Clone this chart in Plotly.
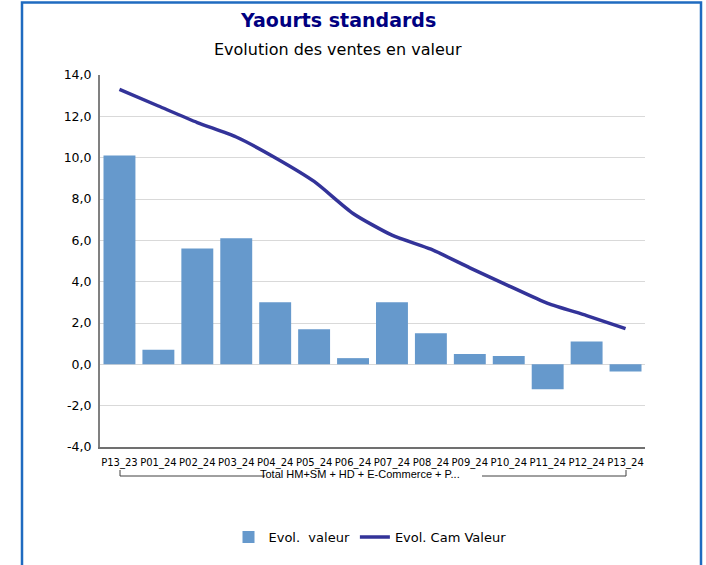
import plotly.graph_objects as go

categories = ["P13_23", "P01_24", "P02_24", "P03_24", "P04_24", "P05_24", "P06_24",
              "P07_24", "P08_24", "P09_24", "P10_24", "P11_24", "P12_24", "P13_24"]
evol_valeur = [10.1, 0.7, 5.6, 6.1, 3.0, 1.7, 0.3, 3.0, 1.5, 0.5, 0.4, -1.2, 1.1, -0.35]
evol_cam_valeur = [13.3, 12.5, 11.7, 11.0, 10.0, 8.85, 7.3, 6.25, 5.57, 4.67, 3.8, 2.95, 2.36, 1.73]
y_ticks = [-4, -2, 0, 2, 4, 6, 8, 10, 12, 14]
y_tick_labels = ["-4,0", "-2,0", "0,0", "2,0", "4,0", "6,0", "8,0", "10,0", "12,0", "14,0"]
group_label = "Total HM+SM + HD + E-Commerce + P..."

FONT = "DejaVu Sans"
W, H = 706, 565
L, R, T, B = 100, 61, 75, 118
PW, PH = W - L - R, H - T - B

def px(x):
    return (x - L) / PW

def py(y):
    return (H - B - y) / PH

fig = go.Figure()
fig.add_trace(go.Bar(
    x=categories, y=evol_valeur, name="Evol.\u00a0 valeur",
    marker=dict(color="#6699CC", line=dict(width=0)),
))
fig.add_trace(go.Scatter(
    x=categories, y=evol_cam_valeur, name="Evol. Cam Valeur", mode="lines",
    line=dict(color="#333399", width=3.5, shape="spline", smoothing=0.6),
))

shapes = [
    # outer frame
    dict(type="rect", xref="paper", yref="paper", x0=px(22), x1=px(701), y0=py(2.5), y1=py(575),
         line=dict(color="#1F6BC0", width=2.5), fillcolor="rgba(0,0,0,0)", layer="below"),
    # group bracket
    dict(type="path", xref="paper", yref="paper",
         path=f"M {px(120)} {py(470)} L {px(120)} {py(476)} L {px(265)} {py(476)}",
         line=dict(color="#404040", width=1)),
    dict(type="path", xref="paper", yref="paper",
         path=f"M {px(482)} {py(476)} L {px(626)} {py(476)} L {px(626)} {py(470)}",
         line=dict(color="#404040", width=1)),
]

annotations = [
    dict(text="<b>Yaourts standards</b>", xref="paper", yref="paper", x=px(338), y=py(20),
         showarrow=False, font=dict(family=FONT, size=19, color="#000080"),
         xanchor="center", yanchor="middle"),
    dict(text="Evolution des ventes en valeur", xref="paper", yref="paper", x=px(338), y=py(49),
         showarrow=False, font=dict(family=FONT, size=16, color="#000000"),
         xanchor="center", yanchor="middle"),
    dict(text=group_label, xref="paper", yref="paper", x=px(360), y=py(474),
         showarrow=False, font=dict(family="Liberation Sans", size=11, color="#000000"),
         xanchor="center", yanchor="middle"),
]

fig.update_layout(
    width=W, height=H,
    margin=dict(l=L, r=R, t=T, b=B),
    paper_bgcolor="white", plot_bgcolor="white",
    bargap=0.18,
    showlegend=True,
    legend=dict(orientation="h", x=px(370), y=py(537), xanchor="center", yanchor="middle",
                font=dict(family=FONT, size=13, color="#000000"), itemwidth=30,
                traceorder="normal"),
    shapes=shapes,
    annotations=annotations,
    font=dict(family=FONT, color="#000000"),
)
fig.update_xaxes(
    type="category", showgrid=False, showline=True, linecolor="#707070", linewidth=1.5,
    ticks="", tickfont=dict(family=FONT, size=10, color="#000000"), tickangle=0,
    ticklabelstandoff=5,
)
fig.update_yaxes(
    range=[-4, 14], tickvals=y_ticks, ticktext=y_tick_labels, showgrid=True,
    gridcolor="#D9D9D9", gridwidth=1, zeroline=False, showline=True,
    linecolor="#808080", linewidth=2, ticks="",
    tickfont=dict(family=FONT, size=12.5, color="#000000"), ticklabelstandoff=4,
)
fig.write_html("out.html", config={"displayModeBar": False},
               post_script="document.body.style.margin='0';")
